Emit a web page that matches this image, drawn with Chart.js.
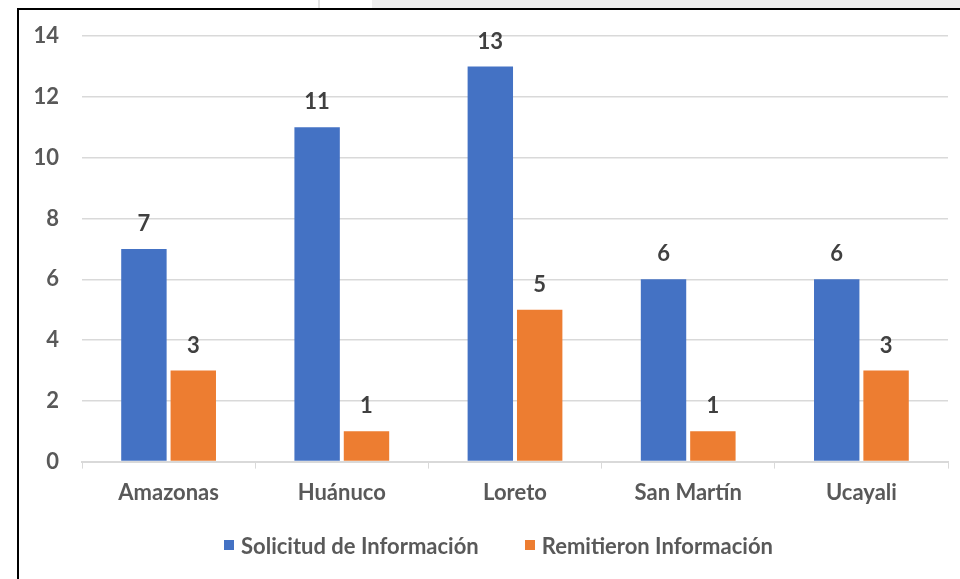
<!DOCTYPE html>
<html>
<head>
<meta charset="utf-8">
<script src="https://cdn.jsdelivr.net/npm/chart.js@4.4.1/dist/chart.umd.min.js"></script>
<style>
  html, body { margin: 0; padding: 0; background: #fff; }
  #wrap { position: relative; width: 960px; height: 579px; overflow: hidden; }
  #chart-box { position: absolute; left: 0; top: 0; width: 960px; height: 579px; }
  .strip { position: absolute; }
  #legend {
    position: absolute; left: 224px; top: 531px; height: 28px;
    display: flex; align-items: center;
    font: bold 22px Lato, "Open Sans", sans-serif; color: #595959;
  }
  #legend .item { display: flex; align-items: center; margin-right: 46px; }
  #legend .box { width: 10px; height: 10px; margin-right: 7px; }
</style>
</head>
<body>
<div id="wrap">
  <div id="chart-box"><canvas id="bar-chart"></canvas></div>
  <div id="legend"></div>
  <div class="strip" style="left:372px;top:0;width:588px;height:8px;background:#eeeeee"></div>
  <div class="strip" style="left:318px;top:0;width:2px;height:8px;background:#e3e3e3"></div>
  <div class="strip" style="left:17px;top:8px;width:943px;height:2px;background:#000"></div>
  <div class="strip" style="left:17px;top:8px;width:2px;height:571px;background:#000"></div>
</div>
<script>
  "use strict";

  const regions = ["Amazonas", "Huánuco", "Loreto", "San Martín", "Ucayali"];
  const solicitud = [7, 11, 13, 6, 6];
  const remitieron = [3, 1, 5, 1, 3];
  const seriesNames = ["Solicitud de Información", "Remitieron Información"];
  const seriesColors = ["#4472C4", "#ED7D31"];

  const FONT = "Lato, 'Open Sans', sans-serif";
  const TEXT_COLOR = "#595959";
  const GRID_COLOR = "#d9d9d9";

  // etiquetas de valor encima de cada barra
  const valueLabels = {
    id: "valueLabels",
    afterDatasetsDraw(chart) {
      const ctx = chart.ctx;
      ctx.save();
      ctx.font = "bold 22px " + FONT;
      ctx.fillStyle = "#404040";
      ctx.textAlign = "center";
      ctx.textBaseline = "middle";
      chart.data.datasets.forEach((ds, i) => {
        const meta = chart.getDatasetMeta(i);
        meta.data.forEach((bar, j) => {
          ctx.fillText(String(ds.data[j]), bar.x, bar.y - 25);
        });
      });
      ctx.restore();
    },
  };

  const chart = new Chart(document.getElementById("bar-chart"), {
    type: "bar",
    data: {
      labels: regions,
      datasets: seriesNames.map((name, i) => ({
        label: name,
        data: i === 0 ? solicitud : remitieron,
        backgroundColor: seriesColors[i],
        barPercentage: 0.92,
        categoryPercentage: 0.57,
      })),
    },
    options: {
      responsive: true,
      maintainAspectRatio: false,
      animation: false,
      layout: { padding: { left: 20, right: 12, top: 33, bottom: 62 } },
      plugins: {
        legend: { display: false },
        tooltip: { enabled: false },
      },
      scales: {
        x: {
          grid: {
            offset: true,
            drawOnChartArea: false,
            drawTicks: true,
            tickLength: 7,
            color: GRID_COLOR,
          },
          border: { color: GRID_COLOR, width: 2 },
          ticks: {
            color: TEXT_COLOR,
            padding: 11,
            font: { family: FONT, size: 22, weight: "bold" },
          },
        },
        y: {
          min: 0,
          max: 14,
          afterFit(scale) { scale.width = 62; },
          grid: { color: GRID_COLOR, lineWidth: 1.5, drawTicks: false },
          border: { display: false },
          ticks: {
            stepSize: 2,
            padding: 23,
            color: TEXT_COLOR,
            font: { family: FONT, size: 22, weight: "bold" },
          },
        },
      },
    },
    plugins: [valueLabels],
  });

  // leyenda en HTML a partir de los datasets
  const legendEl = document.getElementById("legend");
  chart.data.datasets.forEach((ds) => {
    const item = document.createElement("div");
    item.className = "item";
    const box = document.createElement("span");
    box.className = "box";
    box.style.background = ds.backgroundColor;
    const txt = document.createElement("span");
    txt.textContent = ds.label;
    item.appendChild(box);
    item.appendChild(txt);
    legendEl.appendChild(item);
  });
</script>
</body>
</html>
